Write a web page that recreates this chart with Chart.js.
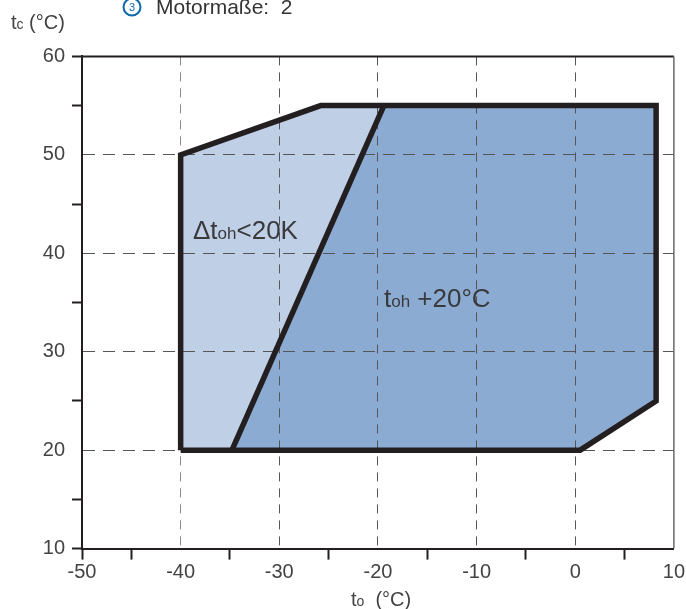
<!DOCTYPE html>
<html><head><meta charset="utf-8">
<style>html,body{margin:0;padding:0;background:#fff}canvas{display:block}</style>
<script src="https://cdn.jsdelivr.net/npm/chart.js@4/dist/chart.umd.min.js"></script>
</head><body><canvas id="c" width="686" height="609"></canvas>
<script>
const outlineX=[-40,-40,-25.8,8.2,8.2,0.5,-40];
const outlineY=[20,50,55,55,25,20,20];
const highX=[-34.8,-19.4,8.2,8.2,0.5,-34.8];
const highY=[20,55,55,25,20,20];
const splitX=[-34.8,-19.4];
const splitY=[20,55];
const frameTopX=[-50,10];
const frameTopY=[60,60];
const frameRightX=[10,10];
const frameRightY=[60,10];
const xMin=-50,xMax=10,yMin=10,yMax=60;
const pts=(xs,ys)=>xs.map((x,i)=>({x,y:ys[i]}));
const FONT='"Liberation Sans",Arial,sans-serif';
const INK='#231f20',TXT='#444245';
function runs(ctx,x,y,parts,color){
  ctx.fillStyle=color||TXT;ctx.textAlign='left';ctx.textBaseline='alphabetic';
  for(const [s,size] of parts){ctx.font=size+'px '+FONT;ctx.fillText(s,x,y);x+=ctx.measureText(s).width;}
}
const labels={id:'labels',afterDraw(ch){
  const c=ch.ctx;c.save();
  runs(c,193,239,[['Δt',26],['oh',17],['<20K',26]],'#3a3a3c');
  runs(c,384,307,[['t',26],['oh',17],[' +20°C',26]],'#3a3a3c');
  runs(c,11,29,[['t',20],['c',14],[' (°C)',20]]);
  runs(c,351,606,[['t',20],['o',14],['  (°C)',20]]);
  runs(c,156,14,[['Motormaße:  2',21]],'#333');
  c.strokeStyle='#0b68ad';c.lineWidth=2;c.beginPath();c.arc(132,7,8.5,0,Math.PI*2);c.stroke();
  c.textAlign='center';c.font='11px '+FONT;c.fillStyle='#0b68ad';c.fillText('3',132,11);
  c.restore();
}};
const tick10=v=>v%10===0;
new Chart(document.getElementById('c'),{
  type:'scatter',
  data:{datasets:[
    {data:pts(frameTopX,frameTopY),showLine:true,pointRadius:0,borderColor:INK,borderWidth:2,fill:false,clip:false,order:5},
    {data:pts(frameRightX,frameRightY),showLine:true,pointRadius:0,borderColor:'#6a6a6c',borderWidth:1.5,fill:false,clip:false,order:4},
    {data:pts(outlineX,outlineY),showLine:true,pointRadius:0,borderWidth:0,borderColor:'rgba(0,0,0,0)',backgroundColor:'#bfcfe6',fill:'shape',order:3},
    {data:pts(highX,highY),showLine:true,pointRadius:0,borderWidth:0,borderColor:'rgba(0,0,0,0)',backgroundColor:'#8cabd3',fill:'shape',order:2},
    {data:pts(splitX,splitY),showLine:true,pointRadius:0,borderWidth:5.5,borderColor:INK,fill:false,clip:false,order:1},
    {data:pts(outlineX,outlineY),showLine:true,pointRadius:0,borderWidth:5.5,borderColor:INK,borderJoinStyle:'miter',fill:false,clip:false,order:0}
  ]},
  options:{
    responsive:false,animation:false,events:[],
    layout:{padding:{left:0,right:11.5,top:56.4,bottom:0}},
    plugins:{legend:{display:false},tooltip:{enabled:false},filler:{drawTime:'beforeDraw'}},
    scales:{
      x:{type:'linear',min:xMin,max:xMax,
        afterFit(s){s.height=60.4;},
        border:{color:INK,width:2,dash:[9,7]},
        grid:{lineWidth:1,tickLength:11,tickWidth:2,
          color:c=>(tick10(c.tick.value)&&c.tick.value>xMin&&c.tick.value<xMax)?(c.tick.value===-40?'#8a8a8c':'#555557'):'rgba(0,0,0,0)',
          tickColor:c=>(!tick10(c.tick.value)||c.tick.value===xMin)?INK:'rgba(0,0,0,0)'},
        ticks:{stepSize:5,autoSkip:false,maxRotation:0,padding:1,color:TXT,font:{family:FONT,size:20},
          callback:v=>tick10(v)?String(v):''}},
      y:{type:'linear',min:yMin,max:yMax,
        afterFit(s){s.width=82;},
        border:{color:INK,width:2,dash:[12,8]},
        grid:{lineWidth:1,tickLength:10,tickWidth:2,
          color:c=>(tick10(c.tick.value)&&c.tick.value>yMin&&c.tick.value<yMax)?'#555557':'rgba(0,0,0,0)',
          tickColor:c=>(!tick10(c.tick.value)||c.tick.value===yMin||c.tick.value===yMax)?INK:'rgba(0,0,0,0)'},
        ticks:{stepSize:5,autoSkip:false,padding:7,color:TXT,font:{family:FONT,size:20},
          callback:v=>tick10(v)?String(v):''}}
    }
  },
  plugins:[labels]
});
</script></body></html>
